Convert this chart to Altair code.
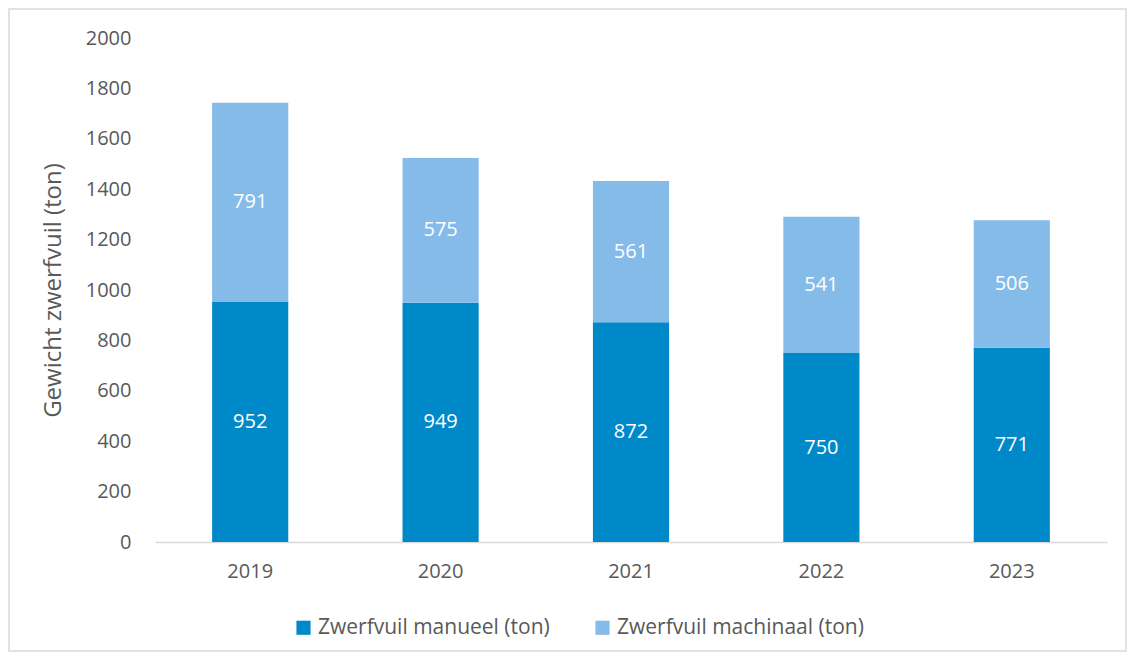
import altair as alt
import pandas as pd

years = ["2019", "2020", "2021", "2022", "2023"]
manueel = [952, 949, 872, 750, 771]
machinaal = [791, 575, 561, 541, 506]
series_names = ["Zwerfvuil manueel (ton)", "Zwerfvuil machinaal (ton)"]
colors = ["#0089C9", "#85BBE9"]

rows = []
for i, y in enumerate(years):
    rows.append({"jaar": y, "reeks": series_names[0], "waarde": manueel[i], "volg": 0,
                 "start": 0, "eind": manueel[i]})
    rows.append({"jaar": y, "reeks": series_names[1], "waarde": machinaal[i], "volg": 1,
                 "start": manueel[i], "eind": manueel[i] + machinaal[i]})
df = pd.DataFrame(rows)
df["mid"] = (df["start"] + df["eind"]) / 2

FONT = "Open Sans"
GREY = "#595959"

x = alt.X("jaar:N", title=None, sort=years,
          scale=alt.Scale(paddingInner=0.6, paddingOuter=0.3),
          axis=alt.Axis(labelAngle=0, ticks=False, domainColor="#D9D9D9", domainWidth=1.5,
                        labelPadding=19, labelFontSize=20, labelColor=GREY, labelFont=FONT))

bars = alt.Chart(df).mark_bar().encode(
    x=x,
    y=alt.Y("start:Q", title="Gewicht zwerfvuil (ton)",
            scale=alt.Scale(domain=[0, 2000], nice=False),
            axis=alt.Axis(values=list(range(0, 2001, 200)), format="d", grid=False, domain=False,
                          ticks=False, labelPadding=24, labelFontSize=20, labelColor=GREY,
                          labelFont=FONT, titleFontSize=24, titleFont=FONT, titleColor=GREY,
                          titleFontWeight="normal", titlePadding=20)),
    y2="eind:Q",
    color=alt.Color("reeks:N", sort=series_names,
                    scale=alt.Scale(domain=series_names, range=colors),
                    legend=alt.Legend(title=None, orient="none", direction="horizontal",
                                      legendX=138, legendY=504 + 75, symbolType="square",
                                      symbolSize=200, symbolStrokeWidth=0, labelFontSize=21,
                                      labelFont=FONT, labelColor=GREY, columnPadding=42,
                                      labelOffset=4, labelLimit=0)),
)

labels = alt.Chart(df).mark_text(color="white", fontSize=20, font=FONT).encode(
    x=alt.X("jaar:N", sort=years),
    y=alt.Y("mid:Q"),
    text=alt.Text("waarde:Q"),
)

frame = alt.Chart(pd.DataFrame({"a": [0]})).mark_rect(
    fill=None, stroke="#D9D9D9", strokeWidth=1.5
).encode(x=alt.value(-146), x2=alt.value(971), y=alt.value(-29), y2=alt.value(613))

chart = alt.layer(frame, bars, labels).properties(
    width=952, height=504,
    autosize=alt.AutoSizeParams(type="none"),
    padding={"left": 147, "top": 30, "right": 20, "bottom": 110},
).configure_view(stroke=None)

chart.save("out.html", embed_options={"renderer": "svg", "actions": False})
